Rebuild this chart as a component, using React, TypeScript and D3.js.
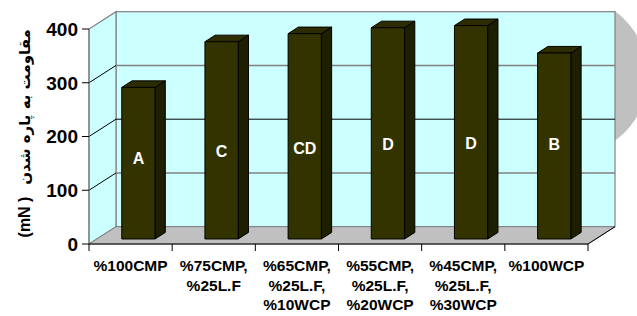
import React from "react";
import * as d3 from "d3";

const categories: string[][] = [
  ["%100CMP"],
  ["%75CMP,", "%25L.F"],
  ["%65CMP,", "%25L.F,", "%10WCP"],
  ["%55CMP,", "%25L.F,", "%20WCP"],
  ["%45CMP,", "%25L.F,", "%30WCP"],
  ["%100WCP"],
];
const values: number[] = [282, 367, 382, 393, 397, 346];
const letters: string[] = ["A", "C", "CD", "D", "D", "B"];
const letterLevels: number[] = [150, 164, 169, 177, 178, 177];
const yTicks: number[] = [0, 100, 200, 300, 400];
const yTitleUnit = "(mN )";
const yTitleText = "مقاومت به پاره شدن";

const W = 637;
const H = 316;
const X0 = 89;
const X1 = 588;
const Y0 = 244;
const Y1 = 29;
const DX = 27;
const DY = -17.3;
const F0 = 0.29; // bar front depth fraction
const F1 = 0.67; // bar back depth fraction

export default function App() {
  const ids = categories.map((_, i) => String(i));
  const x = d3.scaleBand<string>().domain(ids).range([X0, X1]).paddingInner(0).paddingOuter(0);
  const y = d3.scaleLinear().domain([0, 400]).range([Y0, Y1]);
  const bw = x.bandwidth() * 0.4;
  const font = "'Liberation Sans', Arial, 'DejaVu Sans', sans-serif";

  const fx = F0 * DX, fy = F0 * DY;
  const ddx = (F1 - F0) * DX, ddy = (F1 - F0) * DY;

  const pts = (p: number[][]) => p.map((q) => q.join(",")).join(" ");

  return (
    <svg width={W} height={H} style={{ position: "absolute", left: 0, top: 0 }} fontFamily={font}>
      <defs>
        <clipPath id="crescentClip">
          <rect x={614} y={0} width={40} height={H} />
        </clipPath>
      </defs>
      <rect x={0} y={0} width={W} height={H} fill="#ffffff" />
      {/* decorative crescent */}
      <circle cx={568} cy={76} r={80} fill="#c0c0c0" clipPath="url(#crescentClip)" />
      {/* back wall */}
      <rect x={X0 + DX} y={Y1 + DY} width={X1 - X0} height={Y0 - Y1} fill="#ccffff" stroke="#808080" strokeWidth={1.2} />
      {/* left wall */}
      <polygon
        points={pts([[X0, Y0], [X0, Y1], [X0 + DX, Y1 + DY], [X0 + DX, Y0 + DY]])}
        fill="#ccffff"
        stroke="#808080"
        strokeWidth={1.2}
      />
      {/* floor */}
      <polygon
        points={pts([[X0, Y0], [X1, Y0], [X1 + DX, Y0 + DY], [X0 + DX, Y0 + DY]])}
        fill="#c0c0c0"
        stroke="#808080"
        strokeWidth={1}
      />
      <line x1={X1} y1={Y0} x2={X1 + DX} y2={Y0 + DY} stroke="#000" strokeWidth={1} />
      {/* gridlines */}
      {yTicks.filter((t) => t > 0 && t < 400).map((t) => (
        <g key={t}>
          <line x1={X0} y1={y(t)} x2={X0 + DX} y2={y(t) + DY} stroke="#000" strokeWidth={1} />
          <line x1={X0 + DX} y1={y(t) + DY} x2={X1 + DX} y2={y(t) + DY} stroke={t === 200 ? "#000" : "#808080"} strokeWidth={t === 200 ? 1 : 1.5} />
        </g>
      ))}
      {/* bars */}
      {values.map((v, i) => {
        const bx = (x(ids[i]) as number) + (x.bandwidth() - bw) / 2 + fx;
        const by0 = y(0) + fy;
        const byt = y(v) + fy;
        return (
          <g key={i} stroke="#000" strokeWidth={1} strokeLinejoin="round">
            <polygon points={pts([[bx + bw, byt], [bx + bw + ddx, byt + ddy], [bx + bw + ddx, by0 + ddy], [bx + bw, by0]])} fill="#1e1e00" />
            <polygon points={pts([[bx, byt], [bx + ddx, byt + ddy], [bx + bw + ddx, byt + ddy], [bx + bw, byt]])} fill="#2c2c00" />
            <rect x={bx} y={byt} width={bw} height={by0 - byt} fill="#333300" />
            <text
              x={bx + bw / 2}
              y={y(letterLevels[i]) + fy}
              dy="0.36em"
              textAnchor="middle"
              fontSize={16}
              fontWeight="bold"
              fill="#ffffff"
              stroke="none"
            >
              {letters[i]}
            </text>
          </g>
        );
      })}
      {/* y axis */}
      <line x1={X0} y1={Y0} x2={X0} y2={Y1} stroke="#808080" strokeWidth={1.2} />
      {yTicks.map((t) => (
        <g key={t}>
          <line x1={X0 - 7} y1={y(t)} x2={X0} y2={y(t)} stroke="#000" strokeWidth={1} />
          <text x={78} y={y(t)} dy="0.36em" textAnchor="end" fontSize={19} fontWeight="bold" fill="#000">
            {t}
          </text>
        </g>
      ))}
      {/* x axis */}
      <line x1={X0} y1={Y0} x2={X1} y2={Y0} stroke="#000" strokeWidth={1.2} />
      {ids.concat(["end"]).map((id, i) => {
        const xx = i < ids.length ? (x(id) as number) : X1;
        return <line key={id} x1={xx} y1={Y0} x2={xx} y2={Y0 + 7} stroke="#000" strokeWidth={1} />;
      })}
      {categories.map((lines, i) => (
        <text key={i} textAnchor="middle" fontSize={15.5} fontWeight="bold" fill="#000">
          {lines.map((l, j) => (
            <tspan key={j} x={(x(ids[i]) as number) + x.bandwidth() / 2} y={271 + j * 19.5}>
              {l}
            </tspan>
          ))}
        </text>
      ))}
      {/* y title */}
      <text transform={`translate(30,217) rotate(-90)`} textAnchor="middle" fontSize={16} fontWeight="bold" fill="#000">
        {yTitleUnit}
      </text>
      <text
        transform={`translate(30,107) rotate(-90)`}
        textAnchor="middle"
        fontSize={15}
        fontWeight="bold"
        fill="#000"
        fontFamily="'DejaVu Sans', sans-serif"
      >
        {yTitleText}
      </text>
    </svg>
  );
}
